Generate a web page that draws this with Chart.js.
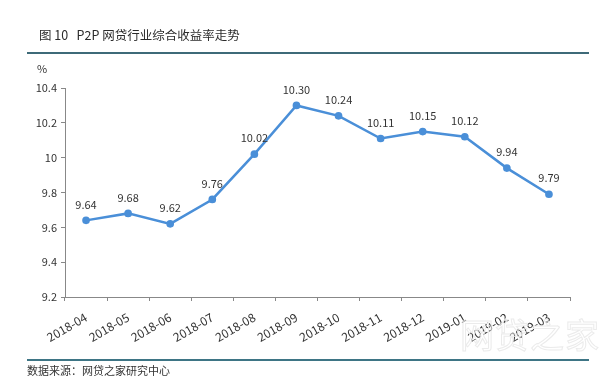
<!DOCTYPE html>
<html>
<head>
<meta charset="utf-8">
<script src="https://cdn.jsdelivr.net/npm/chart.js@4/dist/chart.umd.min.js"></script>
<style>
  html, body { margin: 0; padding: 0; background: #fff; }
  #wrap { position: relative; width: 600px; height: 380px; overflow: hidden; font-family: "Noto Sans CJK SC", "Microsoft YaHei", sans-serif; color: #333; }
  #c { position: absolute; left: 0; top: 0; }
  .t { position: absolute; white-space: nowrap; }
  #title { left: 39px; top: 27px; font-size: 12.5px; line-height: 16px; color: #2a2a2a; }
  #topline { position: absolute; left: 27px; top: 52px; width: 562px; height: 2px; background: #3e6a78; }
  #botline { position: absolute; left: 27px; top: 359px; width: 562px; height: 2px; background: #3e7585; }
  #unit { left: 37px; top: 61px; font-size: 11px; line-height: 14px; }
  #src { left: 27px; top: 363px; font-size: 11px; line-height: 14px; color: #333; }
  #wm { left: 460px; top: 314px; font-size: 34px; line-height: 40px; color: transparent; -webkit-text-stroke: 1px #ebebeb; letter-spacing: 1px; }
</style>
</head>
<body>
<div id="wrap">
  <canvas id="c" width="600" height="380"></canvas>
  <div class="t" id="title">图 10&nbsp;&nbsp;&nbsp;P2P 网贷行业综合收益率走势</div>
  <div id="topline"></div>
  <div class="t" id="unit">%</div>
  <div class="t" id="wm">网贷之家</div>
  <div id="botline"></div>
  <div class="t" id="src">数据来源：网贷之家研究中心</div>
</div>
<script>
const categories = ["2018-04","2018-05","2018-06","2018-07","2018-08","2018-09","2018-10","2018-11","2018-12","2019-01","2019-02","2019-03"];
const yieldRate = [9.64, 9.68, 9.62, 9.76, 10.02, 10.30, 10.24, 10.11, 10.15, 10.12, 9.94, 9.79];
const yTicks = [9.2, 9.4, 9.6, 9.8, 10, 10.2, 10.4];

const FONT = '"Noto Sans CJK SC", "Microsoft YaHei", sans-serif';
const LINE_COLOR = '#4a8fd8';

const valueLabels = {
  id: 'valueLabels',
  afterDatasetsDraw(chart) {
    const ctx = chart.ctx;
    const meta = chart.getDatasetMeta(0);
    ctx.save();
    ctx.font = '11px ' + FONT;
    ctx.fillStyle = '#333';
    ctx.textAlign = 'center';
    ctx.textBaseline = 'middle';
    meta.data.forEach((pt, i) => {
      ctx.fillText(yieldRate[i].toFixed(2), pt.x, pt.y - 16);
    });
    ctx.restore();
  }
};

new Chart(document.getElementById('c'), {
  type: 'line',
  data: {
    labels: categories,
    datasets: [{
      data: yieldRate,
      borderColor: LINE_COLOR,
      backgroundColor: LINE_COLOR,
      borderWidth: 2.5,
      pointRadius: 2.6,
      pointBackgroundColor: LINE_COLOR,
      pointBorderColor: LINE_COLOR,
      tension: 0,
      fill: false
    }]
  },
  options: {
    responsive: false,
    animation: false,
    devicePixelRatio: 1,
    layout: { padding: { left: 0, right: 30, top: 88, bottom: 0 } },
    plugins: { legend: { display: false }, tooltip: { enabled: false }, title: { display: false } },
    scales: {
      x: {
        type: 'category',
        offset: true,
        grid: { offset: true, drawOnChartArea: false, drawTicks: true, tickLength: 4, color: '#888' },
        border: { color: '#888', width: 1 },
        ticks: {
          autoSkip: false, minRotation: 30, maxRotation: 30, padding: 9,
          color: '#333', font: { family: FONT, size: 12 }
        },
        afterFit(scale) { scale.height = 83; }
      },
      y: {
        min: 9.2, max: 10.4,
        afterBuildTicks(scale) { scale.ticks = yTicks.map(v => ({ value: v })); },
        grid: { drawOnChartArea: false, drawTicks: true, tickLength: 4, color: '#888' },
        border: { color: '#888', width: 1 },
        ticks: {
          padding: 4, color: '#333', font: { family: FONT, size: 11 },
          callback: (v) => String(Math.round(v * 10) / 10)
        },
        afterFit(scale) { scale.width = 65; }
      }
    }
  },
  plugins: [valueLabels]
});
</script>
</body>
</html>
